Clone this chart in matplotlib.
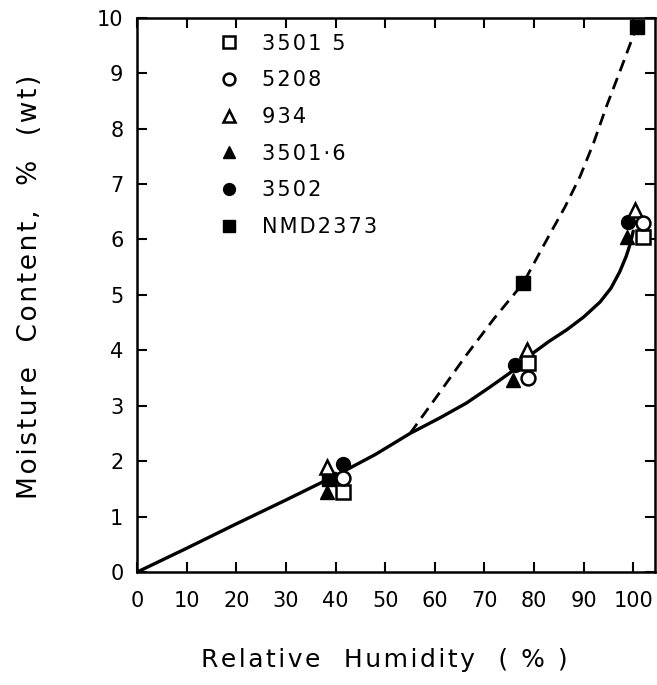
import numpy as np
import matplotlib
matplotlib.use("Agg")
import matplotlib.pyplot as plt

# ----- data -----
rh_3501_5 = [41.5, 78.8, 101.9]
mc_3501_5 = [1.45, 3.77, 6.05]
rh_5208 = [41.5, 78.8, 101.9]
mc_5208 = [1.70, 3.50, 6.30]
rh_934 = [38.2, 78.5, 100.3]
mc_934 = [1.90, 4.00, 6.53]
rh_3501_6 = [38.2, 75.8, 98.7]
mc_3501_6 = [1.45, 3.47, 6.05]
rh_3502 = [41.5, 76.1, 98.9]
mc_3502 = [1.95, 3.74, 6.32]
rh_nmd = [38.6, 77.8, 100.7]
mc_nmd = [1.68, 5.21, 9.84]

# fitted curves (hand traced)
fit_rh = [0, 10, 20, 30, 40, 48, 55, 61, 66.4, 71, 75.1, 79.8, 83, 86.6, 90, 93.3, 95.5, 97.3, 98.6, 99.5, 100]
fit_mc = [0, 0.43, 0.87, 1.30, 1.74, 2.12, 2.50, 2.78, 3.05, 3.33, 3.59, 3.95, 4.16, 4.37, 4.60, 4.87, 5.12, 5.42, 5.70, 5.95, 6.15]
dash_rh = [55.0, 60.5, 66.4, 72.0, 77.8, 82.9, 86.2, 89.3, 92.0, 94.6, 97.6, 100.7]
dash_mc = [2.50, 3.18, 3.92, 4.58, 5.21, 6.05, 6.58, 7.14, 7.74, 8.40, 9.10, 9.84]


def spaced(s):
    # mimic the wide letter spacing of the original lettering
    return '\u200a'.join(s)


plt.rcParams['font.family'] = ['DejaVu Sans']
fig = plt.figure(figsize=(6.57, 6.85), dpi=100)
ax = fig.add_axes([0.209, 0.165, 0.788, 0.809])

ax.plot(fit_rh, fit_mc, 'k-', lw=2.4, solid_capstyle='round')
ax.plot(dash_rh, dash_mc, 'k--', lw=2.0, dashes=(4.3, 2.6))

ms = 10
ax.plot(rh_nmd, mc_nmd, 'ks', ms=ms, label='NMD2373')
ax.plot(rh_3501_6, mc_3501_6, 'k^', ms=ms, label='3501·6')
ax.plot(rh_3502, mc_3502, 'ko', ms=ms, label='3502')
ax.plot(rh_934, mc_934, '^', color='k', mfc='white', mew=1.8, ms=ms, label='934')
ax.plot(rh_3501_5, mc_3501_5, 's', color='k', mfc='white', mew=1.8, ms=ms, label='3501 5')
ax.plot(rh_5208, mc_5208, 'o', color='k', mfc='white', mew=1.8, ms=ms, label='5208')

handles, labels = ax.get_legend_handles_labels()
order = ['3501 5', '5208', '934', '3501·6', '3502', 'NMD2373']
hmap = dict(zip(labels, handles))
leg = ax.legend([hmap[k] for k in order], [spaced(k) for k in order], loc='upper left',
                bbox_to_anchor=(0.12, 1.005), frameon=False, fontsize=15,
                handletextpad=1.1, labelspacing=0.8, markerscale=0.85,
                handlelength=1.0)

ax.set_xlim(0, 104.4)
ax.set_ylim(0, 10)
ax.set_xticks(np.arange(0, 101, 10))
ax.set_yticks(np.arange(0, 11, 1))
ax.tick_params(direction='in', length=7, width=1.5, top=True, right=True,
               labelsize=15)
ax.tick_params(axis='x', pad=14)
ax.tick_params(axis='y', pad=10)
for s in ax.spines.values():
    s.set_linewidth(1.8)

ax.set_xlabel(spaced('Relative  Humidity  ( % )'), fontsize=18)
ax.set_ylabel(spaced('Moisture  Content,  %  (wt)'), fontsize=19)
ax.xaxis.set_label_coords(0.477, -0.138)
ax.yaxis.set_label_coords(-0.182, 0.514)

plt.savefig("out.png", dpi=100)
